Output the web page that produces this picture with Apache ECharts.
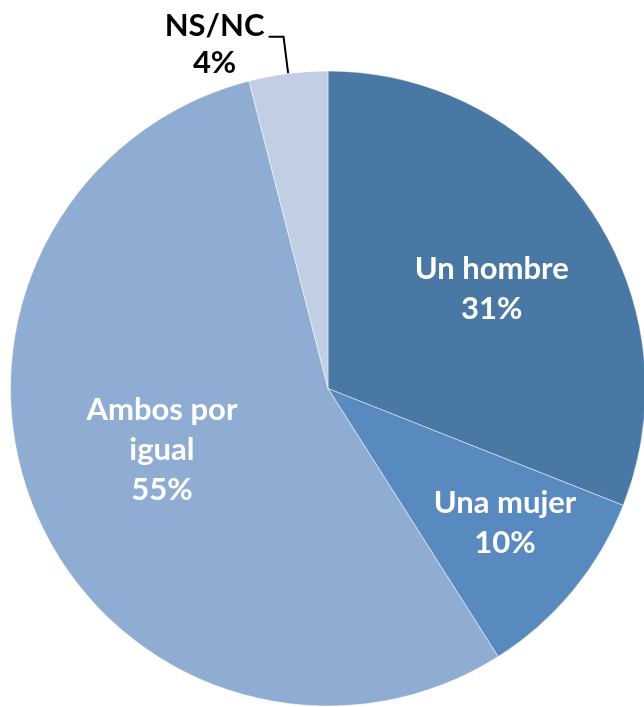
<!DOCTYPE html>
<html>
<head>
<meta charset="utf-8">
<script src="https://cdn.jsdelivr.net/npm/echarts@6/dist/echarts.min.js"></script>
<style>
  html, body { margin: 0; padding: 0; background: #fff; }
  #chart { width: 644px; height: 707px; }
</style>
</head>
<body>
<div id="chart"></div>
<script>
// categories and shares (%)
const categories = ['Un hombre', 'Una mujer', 'Ambos por igual', 'NS/NC'];
const shares = [31, 10, 55, 4];
const colors = ['#4a78a5', '#5889bf', '#8fadd2', '#c2cee3'];

// pie geometry
const cx = 328, cy = 388.5, R = 317.5;
// where the inside labels sit (fraction of radius, small turn in degrees), like Excel's best fit
const labelRadius = [0.603, 0.7, 0.558, null];
const labelTurn = [3, -2.4, 3, 0];

const chart = echarts.init(document.getElementById('chart'));

const total = shares.reduce((a, b) => a + b, 0);
const midAngles = [];
let acc = 0;
shares.forEach(v => {
	midAngles.push(((acc + v / 2) / total) * Math.PI * 2);
	acc += v;
});

const font = 'Lato, "Open Sans", sans-serif';

const option = {
	animation: false,
	series: [
		{
			type: 'pie',
			center: [cx, cy],
			radius: R,
			startAngle: 90,
			clockwise: true,
			avoidLabelOverlap: false,
			itemStyle: { borderColor: 'rgba(255,255,255,0.6)', borderWidth: 0.8 },
			label: {
				position: 'inside',
				formatter: '{b}\n{c}%',
				color: '#fff',
				fontFamily: font,
				fontWeight: 'bold',
				fontSize: 31,
				lineHeight: 40,
			},
			labelLayout: (params) => {
				const i = params.dataIndex;
				const k = labelRadius[i];
				if (k == null) return {};
				const a = midAngles[i] + labelTurn[i] * Math.PI / 180;
				return {
					x: cx + k * R * Math.sin(a),
					y: cy - k * R * Math.cos(a),
				};
			},
			emphasis: { disabled: true },
			data: categories.map((name, i) => {
				const item = { name: name, value: shares[i], itemStyle: { color: colors[i] } };
				if (i === 2) {
					item.label = { formatter: 'Ambos por\nigual\n{c}%' };
				}
				if (i === 3) {
					item.label = {
						position: 'outside',
						color: '#000',
						distanceToLabelLine: 2,
						padding: [16, 0, 0, 0],
						formatter: '{a|{b}}\n{a|{c}%}',
						rich: {
							a: {
								width: 104,
								align: 'center',
								color: '#000',
								fontFamily: font,
								fontWeight: 'bold',
								fontSize: 31,
								lineHeight: 37,
							},
						},
					};
					item.labelLine = {
						show: true,
						length: 37,
						length2: 15,
						lineStyle: { color: '#000', width: 2 },
					};
				}
				return item;
			}),
		},
	],
};

chart.setOption(option);
</script>
</body>
</html>
